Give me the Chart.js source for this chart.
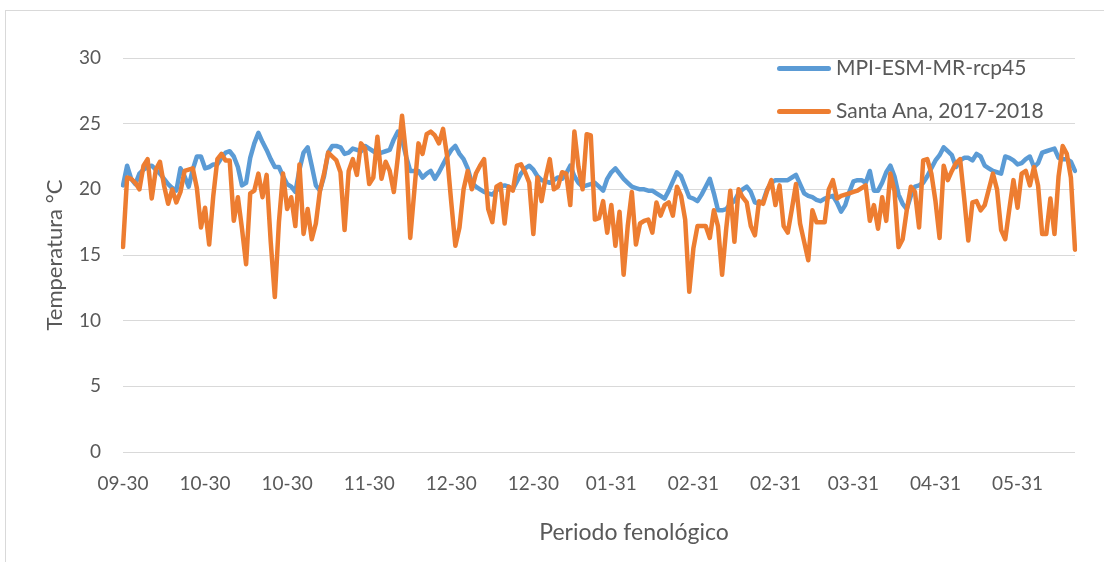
<!DOCTYPE html>
<html>
<head>
<meta charset="utf-8">
<script src="https://cdn.jsdelivr.net/npm/chart.js@4/dist/chart.umd.min.js"></script>
<style>
  html, body { margin: 0; padding: 0; background: #fff; }
  #wrap { position: relative; width: 1104px; height: 562px; overflow: hidden; }
  #frame { position: absolute; left: 5px; top: 10px; width: 1200px; height: 700px;
           border-left: 1px solid #d9d9d9; border-top: 1px solid #d9d9d9; }
  .leg { position: absolute; left: 777px; font-family: Lato, sans-serif; font-size: 21px;
         color: #595959; white-space: nowrap; line-height: 24px; }
  .leg span.ln { display: inline-block; width: 54px; height: 5px; border-radius: 3px;
                 vertical-align: middle; margin-right: 5px; position: relative; top: -1px; }
</style>
</head>
<body>
<div id="wrap">
  <div id="frame"></div>
  <canvas id="myCanvas" width="1104" height="562"></canvas>
  <div class="leg" style="top:55px"><span class="ln" style="background:#5b9bd5"></span>MPI-ESM-MR-rcp45</div>
  <div class="leg" style="top:98px"><span class="ln" style="background:#ed7d31"></span>Santa Ana, 2017-2018</div>
</div>
<script>
// category labels and the point index each one sits on
var tickLabels = ['09-30', '10-30', '10-30', '11-30', '12-30', '12-30',
                  '01-31', '02-31', '02-31', '03-31', '04-31', '05-31'];
var tickIndex = [0, 20, 40, 60, 80, 100, 119, 139, 159, 178, 198, 218];

var mpi = [
  20.3, 21.8, 20.8, 20.4, 21.2, 21.5, 21.7, 21.8, 21.5, 21.2,
  20.8, 20.4, 20.1, 19.9, 21.6, 21.0, 20.2, 21.5, 22.5, 22.5,
  21.6, 21.7, 21.9, 21.9, 22.4, 22.8, 22.9, 22.5, 21.7, 20.3,
  20.5, 22.4, 23.5, 24.3, 23.6, 23.0, 22.3, 21.7, 21.7, 21.0,
  20.4, 20.2, 19.8, 21.5, 22.8, 23.2, 21.8, 20.3, 19.9, 21.0,
  22.8, 23.3, 23.3, 23.2, 22.7, 22.8, 23.1, 23.0, 22.9, 23.3,
  23.1, 22.9, 22.7, 22.8, 22.9, 23.0, 23.8, 24.4, 23.8, 22.5,
  21.4, 21.4, 21.4, 20.9, 21.2, 21.4, 20.8, 21.3, 21.9, 22.5,
  23.0, 23.3, 22.7, 22.3, 21.6, 20.5, 20.2, 20.0, 19.8, 19.7,
  19.6, 19.9, 20.2, 20.3, 20.2, 20.0, 20.6, 21.2, 21.6, 21.8,
  21.5, 21.0, 20.7, 20.6, 20.5, 20.7, 20.9, 20.8, 21.2, 21.8,
  21.0, 20.5, 20.2, 20.3, 20.4, 20.5, 20.2, 19.9, 20.8, 21.3,
  21.6, 21.2, 20.8, 20.5, 20.2, 20.1, 20.0, 20.0, 19.9, 19.9,
  19.7, 19.5, 19.3, 19.9, 20.6, 21.3, 21.0, 20.2, 19.4, 19.3,
  19.1, 19.6, 20.2, 20.8, 19.7, 18.4, 18.4, 18.5, 18.9, 19.1,
  19.7, 20.0, 20.2, 19.8, 19.0, 18.9, 19.1, 20.0, 20.5, 20.7,
  20.7, 20.7, 20.7, 20.9, 21.1, 20.4, 19.7, 19.5, 19.4, 19.2,
  19.1, 19.3, 19.4, 19.5, 19.0, 18.3, 18.8, 19.8, 20.6, 20.7,
  20.7, 20.5, 21.4, 19.9, 19.9, 20.5, 21.3, 21.8, 21.0, 19.6,
  18.9, 18.5, 19.5, 20.2, 20.3, 20.5, 21.0, 21.6, 22.2, 22.6,
  23.2, 22.9, 22.6, 21.7, 22.2, 22.4, 22.4, 22.2, 22.7, 22.5,
  21.8, 21.6, 21.4, 21.3, 21.2, 22.5, 22.4, 22.2, 21.9, 22.0,
  22.3, 22.5, 21.7, 22.0, 22.8, 22.9, 23.0, 23.1, 22.4, 22.3,
  22.3, 22.1, 21.4
];

var santaAna = [
  15.6, 20.9, 20.8, 20.5, 20.0, 21.8, 22.3, 19.3, 21.5, 22.1,
  20.3, 18.9, 20.0, 19.0, 19.8, 21.4, 21.5, 21.6, 20.1, 17.1,
  18.6, 15.8, 19.5, 22.3, 22.7, 22.2, 22.2, 17.6, 19.4, 17.0,
  14.3, 19.7, 19.9, 21.2, 19.4, 21.1, 16.0, 11.8, 17.5, 21.2,
  18.5, 19.4, 17.2, 21.9, 16.6, 18.5, 16.2, 17.4, 19.9, 21.2,
  22.8, 22.5, 22.2, 21.3, 16.9, 21.4, 22.3, 21.1, 23.5, 23.1,
  20.4, 20.9, 24.0, 20.8, 22.1, 21.4, 19.8, 22.5, 25.6, 22.6,
  16.3, 19.9, 23.5, 22.7, 24.2, 24.4, 24.1, 23.5, 24.6, 22.5,
  19.0, 15.7, 17.1, 20.0, 21.4, 20.0, 21.2, 21.8, 22.3, 18.5,
  17.5, 20.2, 20.4, 17.4, 20.2, 19.9, 21.8, 21.9, 21.3, 20.5,
  16.6, 20.9, 19.1, 20.9, 22.3, 20.0, 20.2, 21.3, 21.2, 18.8,
  24.4, 21.7, 20.0, 24.2, 24.1, 17.7, 17.8, 19.1, 16.7, 18.8,
  15.7, 18.3, 13.5, 17.2, 19.8, 15.8, 17.4, 17.6, 17.7, 16.7,
  19.0, 18.0, 18.8, 19.0, 18.0, 20.2, 19.5, 17.7, 12.2, 15.5,
  17.2, 17.2, 17.2, 16.3, 18.4, 17.2, 13.5, 17.0, 19.9, 16.0,
  20.0, 19.4, 19.0, 17.2, 16.5, 19.1, 18.9, 19.9, 20.7, 18.8,
  20.3, 17.2, 16.7, 18.5, 20.4, 17.4, 16.0, 14.6, 18.4, 17.5,
  17.5, 17.5, 20.0, 20.7, 19.3, 19.5, 19.6, 19.7, 19.8, 19.9,
  20.1, 20.3, 17.6, 18.8, 17.0, 19.4, 17.6, 21.2, 19.9, 15.6,
  16.2, 18.4, 20.2, 19.8, 17.1, 22.2, 22.3, 21.2, 19.1, 16.3,
  21.8, 20.7, 21.4, 22.0, 22.3, 19.3, 16.1, 19.0, 19.1, 18.4,
  18.8, 20.0, 21.2, 20.0, 16.9, 16.2, 18.5, 20.7, 18.6, 21.2,
  21.4, 20.3, 21.7, 20.3, 16.6, 16.6, 19.3, 16.6, 21.0, 23.3,
  22.7, 20.9, 15.4
];

var categories = [];
for (var i = 0; i < mpi.length; i++) categories.push(i);

var textColor = '#595959';
var gridColor = '#d9d9d9';

// x axis title sits a bit right of the plot centre, so draw it by hand
var xTitle = {
  id: 'xTitle',
  afterDraw: function(chart) {
    var ctx = chart.ctx;
    ctx.save();
    ctx.font = '23px Lato';
    ctx.fillStyle = textColor;
    ctx.textAlign = 'center';
    ctx.textBaseline = 'middle';
    ctx.fillText('Periodo fenológico', 634, 533);
    ctx.restore();
  }
};

var context = document.getElementById('myCanvas').getContext('2d');

var myChart = new Chart(context, {
  type: 'line',
  data: {
    labels: categories,
    datasets: [{
      label: 'MPI-ESM-MR-rcp45',
      data: mpi,
      borderColor: '#5b9bd5',
      backgroundColor: '#5b9bd5',
      borderWidth: 4.5,
      order: 1
    }, {
      label: 'Santa Ana, 2017-2018',
      data: santaAna,
      borderColor: '#ed7d31',
      backgroundColor: '#ed7d31',
      borderWidth: 4.5,
      order: 0
    }]
  },
  options: {
    responsive: false,
    animation: false,
    layout: { padding: { left: 5, top: 58, right: 29, bottom: 0 } },
    elements: {
      point: { radius: 0 },
      line: { tension: 0, borderJoinStyle: 'round', borderCapStyle: 'round' }
    },
    plugins: {
      legend: { display: false },
      tooltip: { enabled: false }
    },
    scales: {
      x: {
        offset: false,
        grid: { display: false },
        border: { display: false },
        afterFit: function(scale) { scale.height = 110; },
        ticks: {
          autoSkip: false,
          maxRotation: 0,
          padding: 12,
          color: textColor,
          font: { family: 'Lato', size: 19 },
          callback: function(value, index) {
            var k = tickIndex.indexOf(index);
            return k >= 0 ? tickLabels[k] : null;
          }
        }
      },
      y: {
        min: 0,
        max: 30,
        grid: { color: gridColor, lineWidth: 1, drawTicks: false },
        border: { display: false },
        afterFit: function(scale) { scale.width = 118; },
        ticks: {
          stepSize: 5,
          padding: 22,
          color: textColor,
          font: { family: 'Lato', size: 19 }
        },
        title: {
          display: true,
          text: 'Temperatura °C',
          color: textColor,
          font: { family: 'Lato', size: 22 },
          padding: { top: 37, bottom: 0 }
        }
      }
    }
  },
  plugins: [xTitle]
});
</script>
</body>
</html>
